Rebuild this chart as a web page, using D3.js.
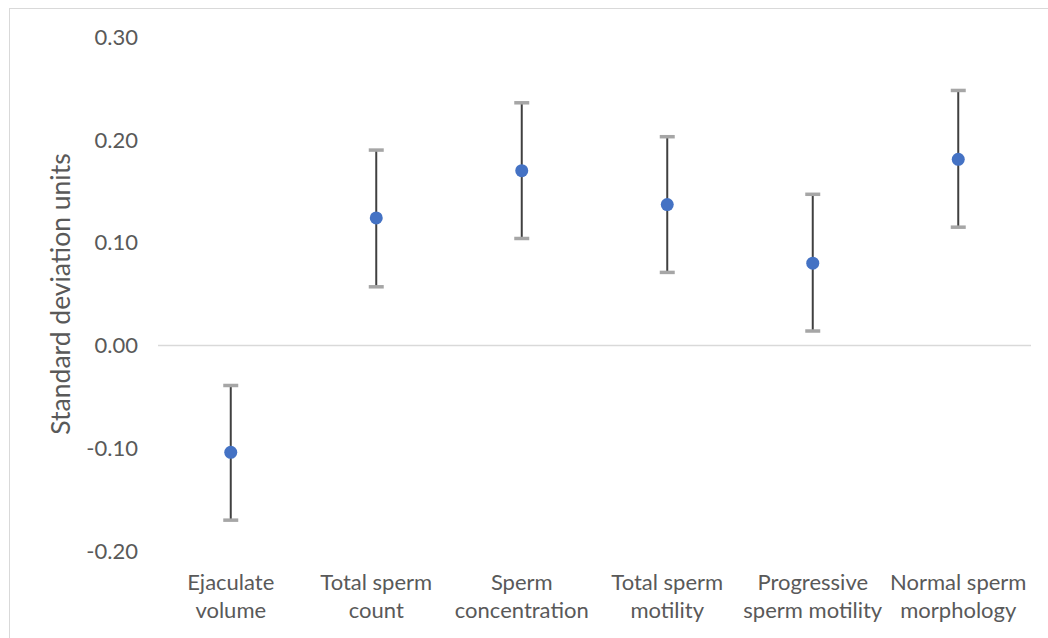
<!DOCTYPE html>
<html>
<head>
<meta charset="utf-8">
<script src="https://cdn.jsdelivr.net/npm/d3@7"></script>
<style>
  body { margin: 0; background: #fff; }
  text { font-family: Lato, "Open Sans", sans-serif; fill: #595959; }
</style>
</head>
<body>
<svg id="chart" width="1048" height="638"></svg>
<script>
// chart data
var categories = [
  ['Ejaculate', 'volume'],
  ['Total sperm', 'count'],
  ['Sperm', 'concentration'],
  ['Total sperm', 'motility'],
  ['Progressive', 'sperm motility'],
  ['Normal sperm', 'morphology']
]
var estimates = [-0.104, 0.124, 0.170, 0.137, 0.080, 0.181]
var lowerCI = [-0.170, 0.057, 0.104, 0.071, 0.014, 0.115]
var upperCI = [-0.039, 0.190, 0.236, 0.203, 0.147, 0.248]
var yTicks = [-0.20, -0.10, 0.00, 0.10, 0.20, 0.30]

var svg = d3.select('#chart')

// outer chart border
svg.append('rect')
  .attr('x', 9.5).attr('y', 8.5)
  .attr('width', 1048).attr('height', 640)
  .attr('fill', 'none').attr('stroke', '#d9d9d9')

var margin = { left: 158, right: 1031, top: 37, bottom: 551 }

var x = d3.scaleBand()
  .domain(d3.range(categories.length))
  .range([margin.left, margin.right])

var y = d3.scaleLinear()
  .domain([-0.2, 0.3])
  .range([margin.bottom, margin.top])

// y tick labels (plain hyphen for negatives, like the original)
svg.append('g')
  .selectAll('text')
  .data(yTicks).join('text')
  .attr('x', 138)
  .attr('y', d => y(d))
  .attr('dy', '0.35em')
  .attr('text-anchor', 'end')
  .attr('font-size', 22)
  .text(d => d.toFixed(2))

// zero line
svg.append('line')
  .attr('x1', margin.left).attr('x2', margin.right)
  .attr('y1', y(0)).attr('y2', y(0))
  .attr('stroke', '#d9d9d9').attr('stroke-width', 1.5)

// y axis title
svg.append('text')
  .attr('transform', 'translate(70,' + y(0.05) + ') rotate(-90)')
  .attr('text-anchor', 'middle')
  .attr('font-size', 26.5)
  .text('Standard deviation units')

// x labels
var xl = svg.append('g')
  .selectAll('text')
  .data(categories).join('text')
  .attr('x', (d, i) => x(i) + x.bandwidth() / 2)
  .attr('y', 590)
  .attr('text-anchor', 'middle')
  .attr('font-size', 22)
xl.append('tspan')
  .attr('x', (d, i) => x(i) + x.bandwidth() / 2)
  .text(d => d[0])
xl.append('tspan')
  .attr('x', (d, i) => x(i) + x.bandwidth() / 2)
  .attr('dy', 28)
  .text(d => d[1])

var cx = i => x(i) + x.bandwidth() / 2

// error bars
var g = svg.append('g')
g.selectAll('.err')
  .data(estimates).join('line')
  .attr('class', 'err')
  .attr('x1', (d, i) => cx(i)).attr('x2', (d, i) => cx(i))
  .attr('y1', (d, i) => y(lowerCI[i])).attr('y2', (d, i) => y(upperCI[i]))
  .attr('stroke', '#404040').attr('stroke-width', 2)

g.selectAll('.capHi')
  .data(upperCI).join('line')
  .attr('class', 'capHi')
  .attr('x1', (d, i) => cx(i) - 7.5).attr('x2', (d, i) => cx(i) + 7.5)
  .attr('y1', d => y(d)).attr('y2', d => y(d))
  .attr('stroke', '#a6a6a6').attr('stroke-width', 3.5)

g.selectAll('.capLo')
  .data(lowerCI).join('line')
  .attr('class', 'capLo')
  .attr('x1', (d, i) => cx(i) - 7.5).attr('x2', (d, i) => cx(i) + 7.5)
  .attr('y1', d => y(d)).attr('y2', d => y(d))
  .attr('stroke', '#a6a6a6').attr('stroke-width', 3.5)

// points
g.selectAll('circle')
  .data(estimates).join('circle')
  .attr('cx', (d, i) => cx(i))
  .attr('cy', d => y(d))
  .attr('r', 6.5)
  .attr('fill', '#4472c4')
</script>
</body>
</html>
